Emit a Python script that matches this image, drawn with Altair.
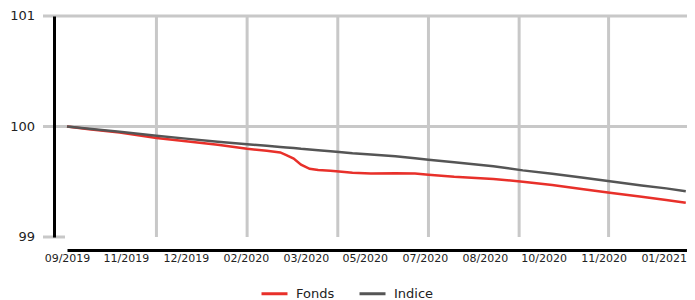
import altair as alt
import pandas as pd

# ---- data ----
dates = ["2019-09-16", "2019-10-04", "2019-10-29", "2019-11-28", "2019-12-24",
         "2020-01-17", "2020-02-10", "2020-02-26", "2020-03-08", "2020-03-13",
         "2020-03-19", "2020-03-25", "2020-04-01", "2020-04-08", "2020-04-18",
         "2020-04-25", "2020-05-06", "2020-05-21", "2020-06-10", "2020-06-26",
         "2020-07-07", "2020-07-28", "2020-08-29", "2020-09-22", "2020-10-16",
         "2020-11-09", "2020-12-02", "2020-12-28", "2021-01-17", "2021-02-02"]

fonds = [100.0, 99.975, 99.945, 99.895, 99.865, 99.835, 99.798, 99.78, 99.765, 99.74,
         99.71, 99.655, 99.617, 99.607, 99.60, 99.592, 99.582, 99.575, 99.577, 99.574,
         99.564, 99.545, 99.525, 99.50, 99.47, 99.435, 99.40, 99.365, 99.335, 99.31]

indice = [100.0, 99.98, 99.953, 99.916, 99.888, 99.862, 99.84, 99.826, 99.815, 99.81,
          99.805, 99.798, 99.792, 99.786, 99.777, 99.769, 99.758, 99.747, 99.73, 99.712,
          99.70, 99.677, 99.64, 99.603, 99.572, 99.538, 99.504, 99.467, 99.44, 99.415]

series_names = ["Fonds", "Indice"]
series_colors = ["#e8302a", "#555555"]

tick_dates = ["2019-09-16", "2019-11-03", "2019-12-22", "2020-02-09", "2020-03-29",
              "2020-05-16", "2020-07-04", "2020-08-22", "2020-10-09", "2020-11-27",
              "2021-01-15"]
grid_dates = ["2019-11-28", "2020-02-10", "2020-04-24", "2020-07-07", "2020-09-19",
              "2020-12-01"]
x_domain = ["2019-09-16", "2021-02-03"]

y_ticks = [99, 100, 101]
y_grid = [100, 101]
y_tick_only = [99]


def dt(s):
    y, m, d = map(int, s.split("-"))
    return alt.DateTime(year=y, month=m, date=d)


def local(s):
    return s + "T00:00:00"


n = len(dates)
df = pd.DataFrame({
    "date": [local(d) for d in dates] * 2,
    "value": fonds + indice,
    "serie": [series_names[0]] * n + [series_names[1]] * n,
})
grid_df = pd.DataFrame({"date": [local(d) for d in grid_dates]})
ygrid_df = pd.DataFrame({"value": y_grid})
ytick_df = pd.DataFrame({"value": y_tick_only})
ylab_df = pd.DataFrame({"value": y_ticks})

W, H = 620, 221
FONT = "DejaVu Sans"
GRID = "#c8c8c8"

xscale = alt.Scale(domain=[dt(x_domain[0]), dt(x_domain[1])], nice=False)
yscale = alt.Scale(domain=[99, 101], nice=False, zero=False)

xaxis = alt.Axis(values=[dt(s) for s in tick_dates], format="%m/%Y",
                 labelOverlap=False, labelFlush=False, ticks=False, grid=False,
                 domainColor="black", domainWidth=3, offset=13,
                 labelFontSize=11, labelFont=FONT, labelColor="#222",
                 labelPadding=2, zindex=1)
yaxis = alt.Axis(values=y_ticks, labels=False, ticks=False, grid=False,
                 domainColor="black", domainWidth=3, offset=13, zindex=1)

X = alt.X("date:T", scale=xscale, title=None, axis=xaxis)
Y = alt.Y("value:Q", scale=yscale, title=None, axis=yaxis)

vgrid = alt.Chart(grid_df).mark_rule(color=GRID, strokeWidth=3).encode(
    x=X,
    y=alt.value(0),
    y2=alt.value(H),
)

hgrid = alt.Chart(ygrid_df).mark_rule(color=GRID, strokeWidth=3).encode(
    y=Y,
    x=alt.value(-24),
    x2=alt.value(W),
)

ytick = alt.Chart(ytick_df).mark_rule(color=GRID, strokeWidth=3).encode(
    y=Y,
    x=alt.value(-24),
    x2=alt.value(-2),
)

ylabels = alt.Chart(ylab_df).mark_text(
    align="right", baseline="middle", font=FONT, fontSize=13, color="#222"
).encode(
    y=Y,
    x=alt.value(-32),
    text=alt.Text("value:Q", format="d"),
)

lines = alt.Chart(df).mark_line(strokeWidth=2.5).encode(
    x=X,
    y=Y,
    color=alt.Color("serie:N",
                    scale=alt.Scale(domain=series_names, range=series_colors),
                    legend=alt.Legend(title=None, orient="none", legendX=193, legendY=263,
                                      direction="horizontal", symbolType="stroke",
                                      symbolSize=676, symbolStrokeWidth=3,
                                      labelFontSize=13, labelFont=FONT, labelColor="#222",
                                      labelOffset=7, columnPadding=18, padding=0)),
    order=alt.Order("serie:N"),
)

chart = alt.layer(vgrid, hgrid, ytick, ylabels, lines).properties(
    width=W, height=H,
    padding={"left": 59, "top": 8, "right": 0, "bottom": 63},
    autosize=alt.AutoSizeParams(type="none"),
).configure_view(stroke=None).configure_axis(grid=False, ticks=False)

chart.save("out.html", embed_options={"renderer": "svg", "actions": False})
